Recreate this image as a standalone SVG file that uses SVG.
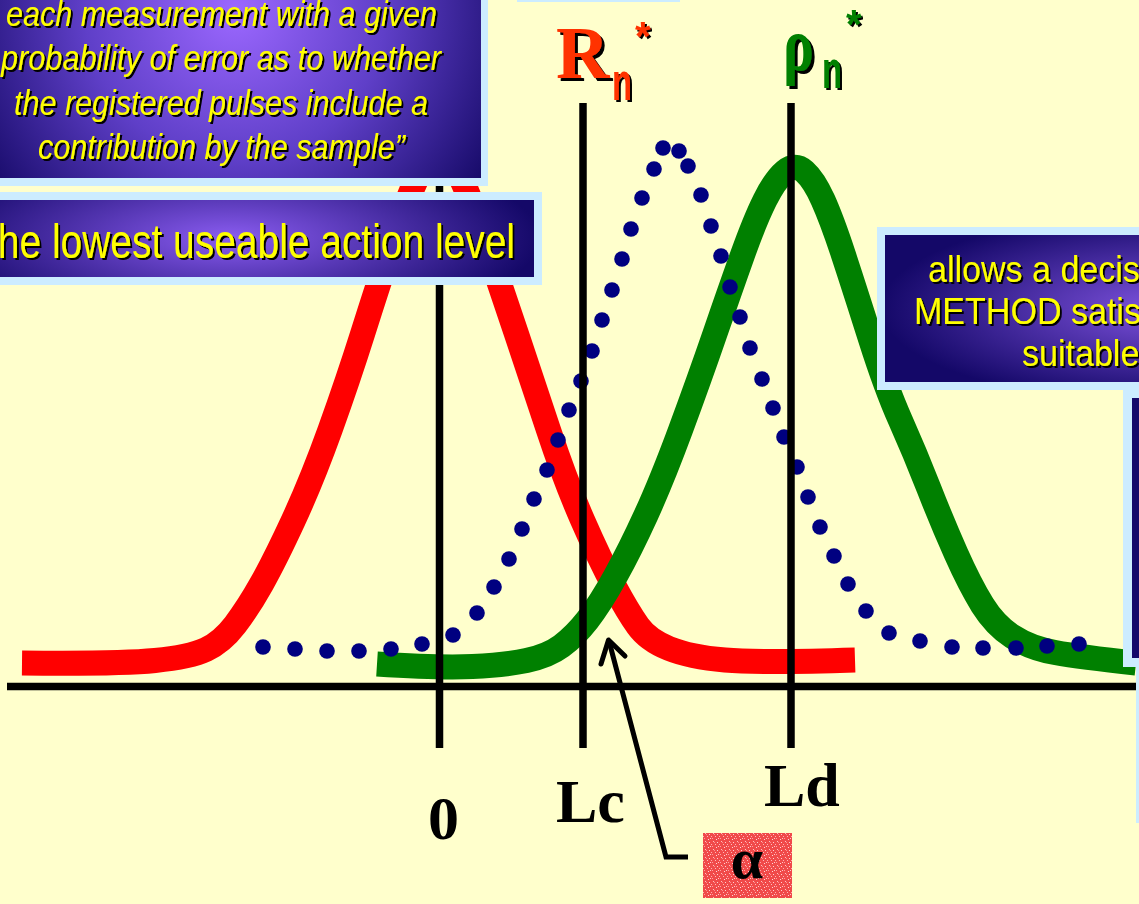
<svg xmlns="http://www.w3.org/2000/svg" width="1139" height="904" viewBox="0 0 1139 904">
<defs>
<style>
.bd{fill:#CCECFF}
.yt{fill:#FFFF00;font-family:"Liberation Sans",Arial,sans-serif;filter:url(#ds)}
.it{font-style:italic;font-size:35px}
.ax{stroke:#000;stroke-width:7.5;fill:none}
.dot{fill:#000080}
.lab{font-family:"Liberation Serif","Times New Roman",serif;font-weight:bold;fill:#000}
</style>
<filter id="ds" x="-5%" y="-20%" width="110%" height="140%">
<feDropShadow dx="2" dy="2" stdDeviation="0.3" flood-color="#000" flood-opacity="1"/>
</filter>
<filter id="ds3" x="-20%" y="-20%" width="140%" height="140%">
<feDropShadow dx="3" dy="3" stdDeviation="0.3" flood-color="#000" flood-opacity="1"/>
</filter>
<radialGradient id="gTop" gradientUnits="userSpaceOnUse" cx="235" cy="10" r="300">
<stop offset="0" stop-color="#9c68ff"/>
<stop offset="0.5" stop-color="#5f3fc8"/>
<stop offset="1" stop-color="#160a68"/>
</radialGradient>
<radialGradient id="gMid" gradientUnits="userSpaceOnUse" cx="230" cy="238" r="310" gradientTransform="translate(230 238) scale(1 0.3) translate(-230 -238)">
<stop offset="0" stop-color="#8a5cf0"/>
<stop offset="1" stop-color="#140868"/>
</radialGradient>
<radialGradient id="gRight" gradientUnits="userSpaceOnUse" cx="1170" cy="308" r="290" gradientTransform="translate(1170 308) scale(1 0.33) translate(-1170 -308)">
<stop offset="0" stop-color="#8054e0"/>
<stop offset="1" stop-color="#140868"/>
</radialGradient>
<pattern id="noise" patternUnits="userSpaceOnUse" width="8" height="8">
<rect width="8" height="8" fill="#f04a4a"/>
<rect x="1" y="1" width="1" height="1" fill="#ffc0c0"/>
<rect x="5" y="2" width="1" height="1" fill="#ffd0d0"/>
<rect x="3" y="4" width="1" height="1" fill="#ffb8b8"/>
<rect x="6" y="6" width="1" height="1" fill="#ffc8c8"/>
<rect x="0" y="6" width="1" height="1" fill="#ffa0a0"/>
<rect x="4" y="7" width="1" height="1" fill="#ffd8d8"/>
<rect x="7" y="4" width="1" height="1" fill="#ffb0b0"/>
<rect x="2" y="2" width="1" height="1" fill="#ff9090"/>
</pattern>
</defs>
<rect width="1139" height="904" fill="#FFFFCC"/>

<g id="curves">
<path id="curve-R" fill="none" stroke="#FF0000" stroke-width="25" stroke-linejoin="round" d="M 22 663 Q 120 664 155 660.5 Q 190 657 206 649.5 Q 222 642 235 625 Q 248 608 261.5 584 Q 275 560 293.5 520 Q 312 480 330 430 Q 348 380 363 332.5 Q 378 285 391.5 245 Q 405 205 415 182.5 Q 425 160 432 154 Q 439 148 446 154 Q 453 160 463 182.5 Q 473 205 486.5 245 Q 500 285 516 332.5 Q 532 380 548.5 430 Q 565 480 582.5 520 Q 600 560 614 586 Q 628 612 638 626 Q 648 640 669 648.5 Q 690 657 725 660 Q 760 663 855 660"/>
<path id="curve-rho" fill="none" stroke="#008000" stroke-width="25" stroke-linejoin="round" d="M 377 664 Q 440 668 472.5 666.5 Q 505 665 526.5 660.5 Q 548 656 561.5 646 Q 575 636 587.5 620 Q 600 604 615 577 Q 630 550 646 515 Q 662 480 680.5 430 Q 699 380 714.5 335 Q 730 290 742.5 255 Q 755 220 765 200 Q 775 180 785 171.5 Q 795 163 804.5 171.5 Q 814 180 823 200 Q 832 220 843.5 255 Q 855 290 870.5 339 Q 886 388 900.5 420.5 Q 915 453 928.5 487.5 Q 942 522 956 553.5 Q 970 585 982.5 605 Q 995 625 1012.5 636.5 Q 1030 648 1055 652.5 Q 1080 657 1136 663"/>
</g>

<g id="dots">
<circle class="dot" cx="263" cy="647" r="7.8"/><circle class="dot" cx="295" cy="649" r="7.8"/><circle class="dot" cx="327" cy="651" r="7.8"/><circle class="dot" cx="359" cy="651" r="7.8"/><circle class="dot" cx="391" cy="649" r="7.8"/><circle class="dot" cx="422" cy="644" r="7.8"/><circle class="dot" cx="453" cy="635" r="7.8"/><circle class="dot" cx="477" cy="613" r="7.8"/><circle class="dot" cx="494" cy="587" r="7.8"/><circle class="dot" cx="509" cy="559" r="7.8"/><circle class="dot" cx="522" cy="529" r="7.8"/><circle class="dot" cx="534" cy="499" r="7.8"/><circle class="dot" cx="547" cy="470" r="7.8"/><circle class="dot" cx="558" cy="440" r="7.8"/><circle class="dot" cx="569" cy="410" r="7.8"/><circle class="dot" cx="581" cy="381" r="7.8"/><circle class="dot" cx="592" cy="351" r="7.8"/><circle class="dot" cx="602" cy="320" r="7.8"/><circle class="dot" cx="612" cy="290" r="7.8"/><circle class="dot" cx="622" cy="259" r="7.8"/><circle class="dot" cx="631" cy="229" r="7.8"/><circle class="dot" cx="642" cy="198" r="7.8"/><circle class="dot" cx="654" cy="169" r="7.8"/><circle class="dot" cx="663" cy="148" r="7.8"/><circle class="dot" cx="679" cy="151" r="7.8"/><circle class="dot" cx="688" cy="166" r="7.8"/><circle class="dot" cx="701" cy="195" r="7.8"/><circle class="dot" cx="711" cy="226" r="7.8"/><circle class="dot" cx="721" cy="256" r="7.8"/><circle class="dot" cx="730" cy="287" r="7.8"/><circle class="dot" cx="740" cy="317" r="7.8"/><circle class="dot" cx="750" cy="348" r="7.8"/><circle class="dot" cx="762" cy="379" r="7.8"/><circle class="dot" cx="773" cy="408" r="7.8"/><circle class="dot" cx="784" cy="437" r="7.8"/><circle class="dot" cx="797" cy="467" r="7.8"/><circle class="dot" cx="808" cy="497" r="7.8"/><circle class="dot" cx="820" cy="527" r="7.8"/><circle class="dot" cx="834" cy="556" r="7.8"/><circle class="dot" cx="848" cy="584" r="7.8"/><circle class="dot" cx="866" cy="611" r="7.8"/><circle class="dot" cx="889" cy="633" r="7.8"/><circle class="dot" cx="920" cy="641" r="7.8"/><circle class="dot" cx="952" cy="647" r="7.8"/><circle class="dot" cx="983" cy="648" r="7.8"/><circle class="dot" cx="1016" cy="648" r="7.8"/><circle class="dot" cx="1047" cy="646" r="7.8"/><circle class="dot" cx="1079" cy="644" r="7.8"/>
</g>

<g id="connectors">
<line class="ax" x1="7" y1="686.5" x2="1139" y2="686.5"/>
<line class="ax" x1="439.5" y1="103" x2="439.5" y2="748"/>
<line class="ax" x1="583" y1="103" x2="583" y2="748"/>
<line class="ax" x1="791" y1="103" x2="791" y2="748"/>
<path d="M 688 857 L 666 857 L 609 641" fill="none" stroke="#000" stroke-width="5" stroke-linejoin="miter"/>
<path d="M 601 664 L 608.5 640 L 625 656" fill="none" stroke="#000" stroke-width="5" stroke-linecap="round" stroke-linejoin="round"/>
</g>

<g id="box-top-left">
<rect class="bd" x="-10" y="-100" width="498" height="286"/>
<rect x="-10" y="-100" width="491" height="278" fill="url(#gTop)"/>
<text class="yt it" x="6" y="26" textLength="431" lengthAdjust="spacingAndGlyphs">each measurement with a given</text>
<text class="yt it" x="1" y="70" textLength="440" lengthAdjust="spacingAndGlyphs">probability of error as to whether</text>
<text class="yt it" x="14" y="115" textLength="414" lengthAdjust="spacingAndGlyphs">the registered pulses include a</text>
<text class="yt it" x="38" y="159" textLength="367" lengthAdjust="spacingAndGlyphs">contribution by the sample”</text>
</g>

<g id="box-top-center">
<rect class="bd" x="517" y="-10" width="163" height="12"/>
</g>

<g id="box-action-level">
<rect class="bd" x="-10" y="192" width="552" height="93"/>
<rect x="-10" y="200" width="544" height="77" fill="url(#gMid)"/>
<text class="yt" x="-13" y="258" font-size="48" textLength="528" lengthAdjust="spacingAndGlyphs">the lowest useable action level</text>
</g>

<g id="box-right">
<rect class="bd" x="877" y="227" width="300" height="163"/>
<rect x="885" y="235" width="300" height="147" fill="url(#gRight)"/>
<text class="yt" font-size="37" transform="translate(928 282) scale(0.92 1)">allows a decis</text>
<text class="yt" font-size="37" transform="translate(914 324) scale(0.92 1)">METHOD satis</text>
<text class="yt" font-size="37" transform="translate(1022 366) scale(0.92 1)">suitable</text>
</g>

<g id="box-right-lower">
<rect class="bd" x="1123" y="390" width="30" height="277"/>
<rect x="1132" y="398" width="20" height="260" fill="#14086a"/>
<rect class="bd" x="1136" y="660" width="10" height="163"/>
</g>

<g id="label-Rn">
<text x="556" y="78" font-family="'Liberation Serif','Times New Roman',serif" font-weight="bold" font-size="74" fill="#FF3300" filter="url(#ds3)">R</text>
<text x="612" y="100" font-family="'Liberation Sans',Arial,sans-serif" font-weight="bold" font-size="54" fill="#FF3300" textLength="20" lengthAdjust="spacingAndGlyphs" filter="url(#ds)">n</text>
<text x="635" y="50" font-family="'Liberation Sans',Arial,sans-serif" font-weight="bold" font-size="40" fill="#FF3300" filter="url(#ds)">*</text>
</g>

<g id="label-rho">
<text x="783" y="70" font-family="'Liberation Serif','Times New Roman',serif" font-weight="bold" font-size="76" fill="#008000" textLength="31" lengthAdjust="spacingAndGlyphs" filter="url(#ds3)">ρ</text>
<text x="822" y="88" font-family="'Liberation Sans',Arial,sans-serif" font-weight="bold" font-size="54" fill="#008000" textLength="20" lengthAdjust="spacingAndGlyphs" filter="url(#ds)">n</text>
<text x="846" y="38" font-family="'Liberation Sans',Arial,sans-serif" font-weight="bold" font-size="40" fill="#008000" filter="url(#ds)">*</text>
</g>

<g id="label-0"><text class="lab" x="428" y="839" font-size="62">0</text></g>
<g id="label-Lc"><text class="lab" x="556" y="822" font-size="62">Lc</text></g>
<g id="label-Ld"><text class="lab" x="764" y="806" font-size="62">Ld</text></g>

<g id="label-alpha">
<rect x="703" y="833" width="89" height="65" fill="url(#noise)"/>
<text class="lab" x="747" y="878" font-size="58" text-anchor="middle">α</text>
</g>
</svg>
